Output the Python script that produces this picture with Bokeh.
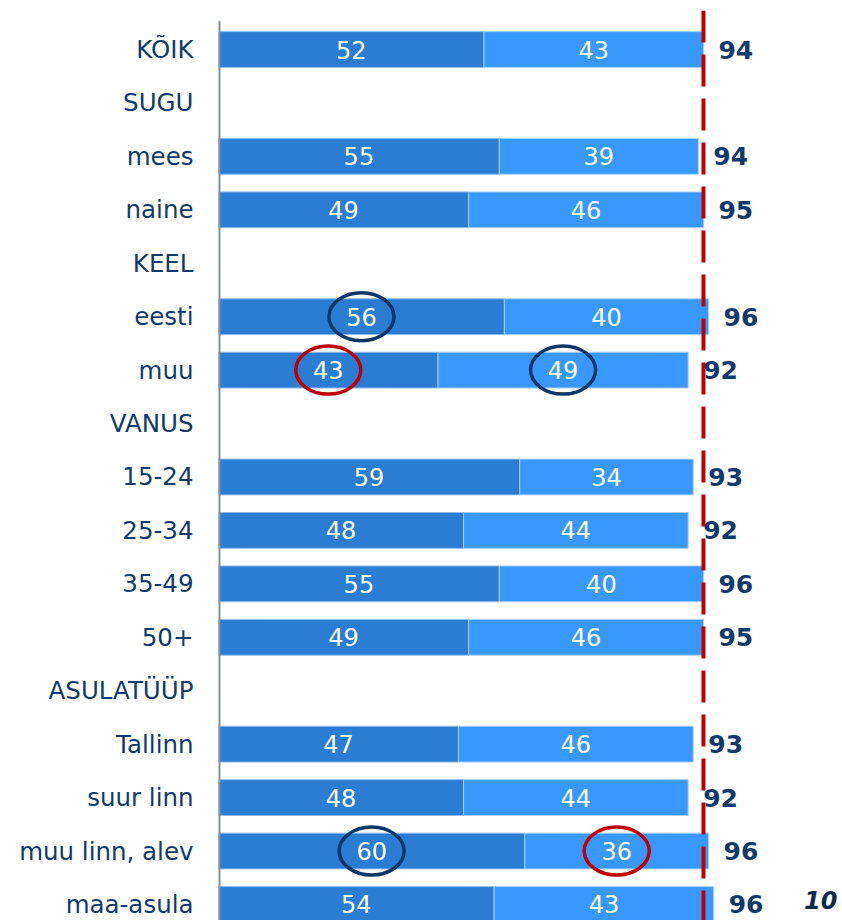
from bokeh.plotting import figure
from bokeh.models import ColumnDataSource, Range1d, FixedTicker, Span, Label
from bokeh.core.properties import value
from bokeh.embed import file_html
from bokeh.resources import INLINE

# ---- data ----
rows = ["KÕIK", "SUGU", "mees", "naine", "KEEL", "eesti", "muu", "VANUS",
        "15-24", "25-34", "35-49", "50+", "ASULATÜÜP", "Tallinn", "suur linn",
        "muu linn, alev", "maa-asula"]
series_a = [52, None, 55, 49, None, 56, 43, None, 59, 48, 55, 49, None, 47, 48, 60, 54]
series_b = [43, None, 39, 46, None, 40, 49, None, 34, 44, 40, 46, None, 46, 44, 36, 43]
totals = [94, None, 94, 95, None, 96, 92, None, 93, 92, 96, 95, None, 93, 92, 96, 96]
reference_value = 95
# highlighted values: (row label, series index 0=a / 1=b, colour)
highlights = [("eesti", 0, "#0d3766"), ("muu", 1, "#0d3766"), ("muu linn, alev", 0, "#0d3766"),
              ("muu", 0, "#c00000"), ("muu linn, alev", 1, "#c00000")]
page_number = "10"

DARK = "#2b7cd3"
LIGHT = "#3898fe"
NAVY = "#0f3a6b"

idx = [i for i, v in enumerate(series_a) if v is not None]
ys = idx
a = [series_a[i] for i in idx]
b = [series_b[i] for i in idx]
tot = [totals[i] for i in idx]
src = ColumnDataSource(dict(
    y=ys, a=a, ab=[x + y for x, y in zip(a, b)],
    a_mid=[x / 2 for x in a], b_mid=[x + y / 2 for x, y in zip(a, b)],
    a_txt=[str(x) for x in a], b_txt=[str(x) for x in b], t_txt=[str(x) for x in tot],
))

n = len(rows)
W, Hgt = 840, 920
LEFT = 218
TOP = 10
xmax = (W - LEFT) / 5.105
p = figure(width=W, height=Hgt, output_backend="svg", toolbar_location=None,
           x_range=Range1d(0, xmax), y_range=Range1d(n - 1 + 0.30, -0.73),
           min_border_left=LEFT, min_border_right=0, min_border_top=TOP, min_border_bottom=0)
p.outline_line_color = None
p.xgrid.visible = False
p.ygrid.visible = False
p.xaxis.visible = False
p.background_fill_color = "white"
p.border_fill_color = "white"

yax = p.yaxis[0]
yax.ticker = FixedTicker(ticks=list(range(n)))
yax.major_label_overrides = {i: r for i, r in enumerate(rows)}
yax.axis_line_color = None
yax.major_tick_line_color = None
yax.minor_tick_line_color = None
yax.major_tick_out = 0
yax.major_tick_in = 0
yax.major_label_standoff = 25
yax.major_label_text_font = "DejaVu Sans"
yax.major_label_text_font_size = "24.5px"
yax.major_label_text_color = NAVY

H = 0.67
p.hbar(y="y", left=0, right="a", height=H, source=src, fill_color=DARK,
       line_color="#8fbdf0", line_width=1)
p.hbar(y="y", left="a", right="ab", height=H, source=src, fill_color=LIGHT,
       line_color="#a9d0fb", line_width=1)

# axis line (half of it is clipped at the frame edge)
p.segment(x0=[0], y0=[-0.54], x1=[0], y1=[n + 1], line_color="#858fa3", line_width=4)

p.text(x="a_mid", y="y", text="a_txt", source=src, text_align="center",
       text_baseline="middle", text_color="white", text_font=value("DejaVu Sans"),
       text_font_size="24px")
p.text(x="b_mid", y="y", text="b_txt", source=src, text_align="center",
       text_baseline="middle", text_color="white", text_font=value("DejaVu Sans"),
       text_font_size="24px")
p.text(x="ab", y="y", text="t_txt", source=src, x_offset=15, text_align="left",
       text_baseline="middle", text_color=NAVY, text_font=value("DejaVu Sans"),
       text_font_size="25px", text_font_style="bold")

# highlight ellipses
hx, hy, hc = [], [], []
for lab, s, c in highlights:
    i = rows.index(lab)
    if s == 0:
        hx.append(series_a[i] / 2)
    else:
        hx.append(series_a[i] + series_b[i] / 2)
    hy.append(i)
    hc.append(c)
p.ellipse(x=hx, y=hy, width=65, height=48, width_units="screen", height_units="screen",
          fill_color=None, line_color=hc, line_width=3.5)

p.add_layout(Span(location=reference_value, dimension="height", line_color="#c00000",
                  line_width=4, line_dash="32 12"))

p.add_layout(Label(x=xmax - 0.6, y=n - 1, text=page_number, text_align="right",
                   text_baseline="middle", y_offset=4, text_color="#0d2a4d",
                   text_font="DejaVu Sans", text_font_size="24px",
                   text_font_style="bold italic"))

open("out.html", "w").write(file_html(p, INLINE))
